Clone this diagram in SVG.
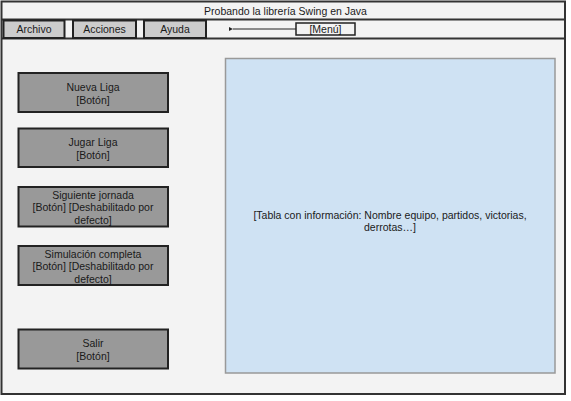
<svg xmlns="http://www.w3.org/2000/svg" width="571" height="401" viewBox="0 0 571 401">
<defs>
<style>
text{font-family:"Liberation Sans",Arial,sans-serif;font-size:10.5px;fill:#1a1a1a;text-anchor:middle}
.btn{fill:#999999;stroke:#222;stroke-width:2}
.menu{fill:#cccccc;stroke:#222;stroke-width:2}
.line{stroke:#333;stroke-width:2;fill:none}
</style>
<marker id="ah" markerWidth="6" markerHeight="6" refX="1" refY="3" orient="auto" markerUnits="userSpaceOnUse">
<path d="M5,1 L1,3 L5,5 Z" fill="#222"/>
</marker>
</defs>
<rect x="0" y="0" width="571" height="401" fill="#ffffff"/>
<g id="window">
<rect x="1.5" y="1.5" width="563.5" height="392.5" fill="#f3f3f3" stroke="#333" stroke-width="2"/>
<line class="line" x1="1.5" y1="19.5" x2="565" y2="19.5"/>
<line class="line" x1="1.5" y1="38.5" x2="565" y2="38.5"/>
<text x="285.5" y="15">Probando la librería Swing en Java</text>
</g>
<g id="archivo"><rect class="menu" x="3.5" y="20.5" width="61" height="17.5"/><text x="34" y="33">Archivo</text></g>
<g id="acciones"><rect class="menu" x="73" y="20.5" width="63" height="17.5"/><text x="104.5" y="33">Acciones</text></g>
<g id="ayuda"><rect class="menu" x="144" y="20.5" width="62" height="17.5"/><text x="175" y="33">Ayuda</text></g>
<g id="menu-label"><rect x="296" y="23" width="59" height="12" fill="none" stroke="#222" stroke-width="1.5"/><text x="325.5" y="33">[Menú]</text></g>
<g id="connectors"><line x1="296" y1="29" x2="233" y2="29" stroke="#222" stroke-width="1" marker-end="url(#ah)"/></g>
<g id="nueva-liga"><rect class="btn" x="18.5" y="73" width="149.5" height="39"/><text x="93" y="90.5">Nueva Liga</text><text x="93" y="103.5">[Botón]</text></g>
<g id="jugar-liga"><rect class="btn" x="18.5" y="128.5" width="149.5" height="38.5"/><text x="93" y="145.5">Jugar Liga</text><text x="93" y="158.5">[Botón]</text></g>
<g id="siguiente-jornada"><rect class="btn" x="18.5" y="187" width="149.5" height="39.5"/><text x="93" y="198.5">Siguiente jornada</text><text x="93" y="211">[Botón] [Deshabilitado por</text><text x="93" y="223.5">defecto]</text></g>
<g id="simulacion-completa"><rect class="btn" x="18.5" y="246" width="149.5" height="39"/><text x="93" y="257.5">Simulación completa</text><text x="93" y="270">[Botón] [Deshabilitado por</text><text x="93" y="282.5">defecto]</text></g>
<g id="salir"><rect class="btn" x="18.5" y="329.5" width="149.5" height="39"/><text x="93" y="346.5">Salir</text><text x="93" y="359.5">[Botón]</text></g>
<g id="tabla"><rect x="225.5" y="58.5" width="329.5" height="314.5" fill="#cfe2f3" stroke="#999999" stroke-width="1.5"/><text x="390" y="218.5">[Tabla con información: Nombre equipo, partidos, victorias,</text><text x="390" y="231">derrotas…]</text></g>
</svg>
